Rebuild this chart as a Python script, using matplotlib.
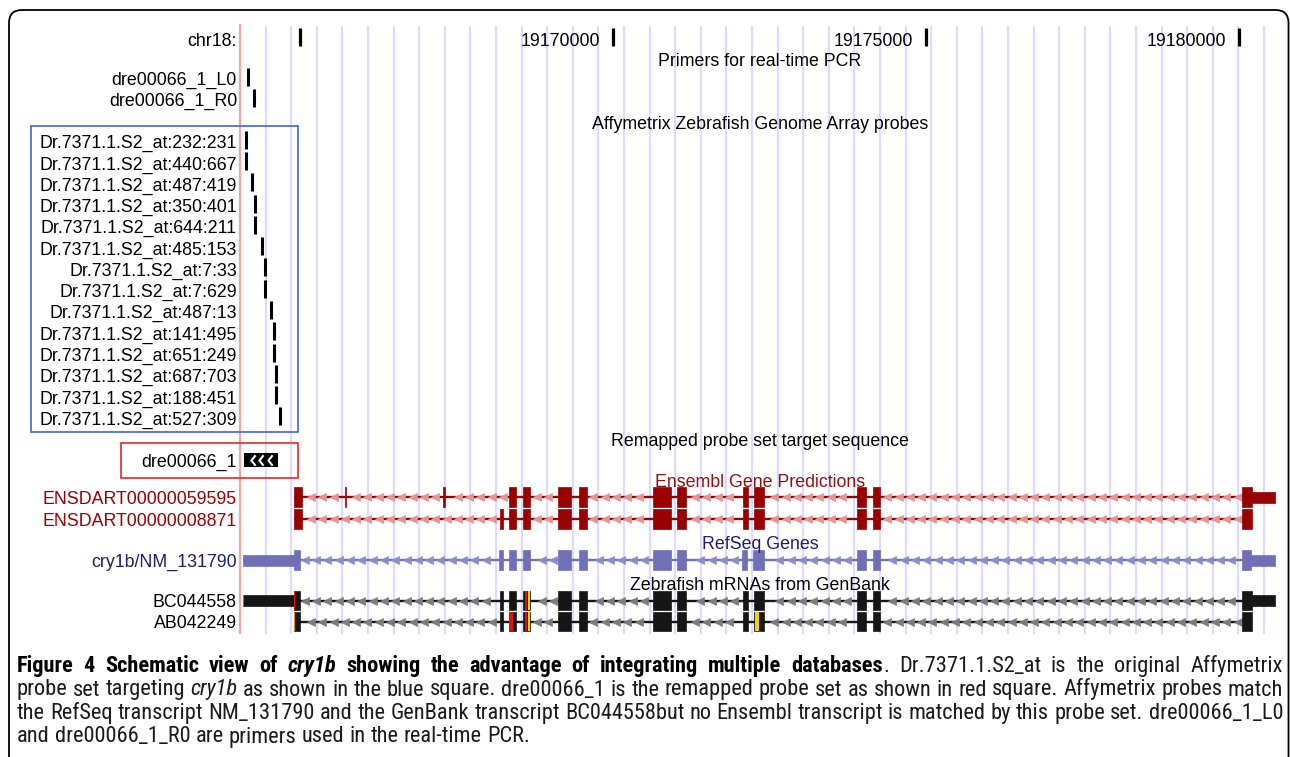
import numpy as np
import matplotlib
matplotlib.use("Agg")
import matplotlib.pyplot as plt
from matplotlib.patches import FancyBboxPatch, Rectangle
from matplotlib import font_manager

# ------------------------------------------------------------------ data
CHROM_LABEL = "chr18:"
VIEW_START, VIEW_END = 19164037, 19180570
RULER_TICKS = [19165000, 19170000, 19175000, 19180000]
RULER_LABELS = ["", "19170000", "19175000", "19180000"]

PRIMER_NAMES = ["dre00066_1_L0", "dre00066_1_R0"]
PRIMER_POS = [19164165, 19164264]

PROBE_NAMES = ["Dr.7371.1.S2_at:232:231", "Dr.7371.1.S2_at:440:667", "Dr.7371.1.S2_at:487:419",
               "Dr.7371.1.S2_at:350:401", "Dr.7371.1.S2_at:644:211", "Dr.7371.1.S2_at:485:153",
               "Dr.7371.1.S2_at:7:33", "Dr.7371.1.S2_at:7:629", "Dr.7371.1.S2_at:487:13",
               "Dr.7371.1.S2_at:141:495", "Dr.7371.1.S2_at:651:249", "Dr.7371.1.S2_at:687:703",
               "Dr.7371.1.S2_at:188:451", "Dr.7371.1.S2_at:527:309"]
PROBE_POS = [19164136, 19164133, 19164232, 19164277, 19164277, 19164396, 19164436,
             19164436, 19164537, 19164575, 19164577, 19164612, 19164612, 19164668]

REMAP_NAME = "dre00066_1"
REMAP_START, REMAP_END = 19164106, 19164649

TRACK_TITLES = ["Primers for real-time PCR", "Affymetrix Zebrafish Genome Array probes",
                "Remapped probe set target sequence", "Ensembl Gene Predictions",
                "RefSeq Genes", "Zebrafish mRNAs from GenBank"]

ENS_NAMES = ["ENSDART00000059595", "ENSDART00000008871"]
ENS1_STARTS = [19164900, 19165714, 19167285, 19168329, 19168562, 19169122, 19169452,
               19170629, 19171022, 19172072, 19172248, 19173898, 19174153, 19180048]
ENS1_ENDS = [19165020, 19165738, 19167308, 19168438, 19168669, 19169320, 19169580,
             19170917, 19171161, 19172144, 19172412, 19174032, 19174260, 19180570]
ENS1_CDS = (19164900, 19180195)
ENS2_STARTS = [19164900, 19168190, 19168329, 19168562, 19169122, 19169452, 19170629,
               19171022, 19172072, 19172248, 19173898, 19174153, 19180048]
ENS2_ENDS = [19165020, 19168233, 19168438, 19168669, 19169320, 19169580, 19170917,
             19171161, 19172144, 19172412, 19174032, 19174260, 19180195]
ENS2_CDS = (19164900, 19180195)

REF_NAME = "cry1b/NM_131790"
REF_STARTS = [19164080, 19168180, 19168329, 19168562, 19169122, 19169452, 19170629,
              19171022, 19172061, 19172237, 19173898, 19174153, 19180048]
REF_ENDS = [19164995, 19168233, 19168438, 19168669, 19169320, 19169580, 19170917,
            19171161, 19172131, 19172412, 19174032, 19174260, 19180570]
REF_CDS = (19164900, 19180185)

MRNA_NAMES = ["BC044558", "AB042249"]
BC_STARTS = [19164080, 19168190, 19168329, 19168562, 19169122, 19169452, 19170629,
             19171022, 19172072, 19172248, 19173898, 19174153, 19180048]
BC_ENDS = [19164995, 19168233, 19168438, 19168669, 19169320, 19169580, 19170917,
           19171161, 19172144, 19172412, 19174032, 19174260, 19180570]
BC_CDS = (19164900, 19180195)
AB_STARTS = [19164900, 19168190, 19168329, 19168562, 19169122, 19169452, 19170629,
             19171022, 19172072, 19172248, 19173898, 19174153, 19180048]
AB_ENDS = [19164995, 19168233, 19168438, 19168669, 19169320, 19169580, 19170917,
           19171161, 19172144, 19172412, 19174032, 19174260, 19180195]
AB_CDS = (19164900, 19180195)

# base-level differences shown on the mRNAs
BC_DIFF_START = [19164080, 19164900, 19168592, 19168630]
BC_DIFF_END = [19164106, 19164922, 19168620, 19168669]
BC_DIFF_KIND = ["polyA", "mismatch", "mismatch", "gap"]
AB_DIFF_START = [19164900, 19168339, 19168592, 19168630, 19172270]
AB_DIFF_END = [19164922, 19168403, 19168620, 19168669, 19172322]
AB_DIFF_KIND = ["insertion", "mismatch", "mismatch", "gap", "gap"]

CAPTION_LINES = [
    [("Figure 4 Schematic view of ", "b"), ("cry1b", "bi"),
     (" showing the advantage of integrating multiple databases", "b"),
     (". Dr.7371.1.S2_at is the original Affymetrix", "r")],
    [("probe set targeting ", "r"), ("cry1b", "i"),
     (" as shown in the blue square. dre00066_1 is the remapped probe set as shown in red square. Affymetrix probes match", "r")],
    [("the RefSeq transcript NM_131790 and the GenBank transcript BC044558but no Ensembl transcript is matched by this probe set. dre00066_1_L0", "r")],
    [("and dre00066_1_R0 are primers used in the real-time PCR.", "r")],
]

# ------------------------------------------------------------------ style / layout
W, H = 1290, 757
TRACK_X0 = 240.0                       # pixel of VIEW_START
BP_PER_PX = (VIEW_END - VIEW_START) / (1275.0 - TRACK_X0)
LABEL_X = 237
FS = 12.8
UCSC_FONT = ["Liberation Sans", "DejaVu Sans"]
ENS_COL, ENS_CHEV = "#990000", "#e49494"
REF_COL, REF_CHEV = "#7070b6", "#8c8cca"
MRNA_COL, MRNA_CHEV = "#161616", "#7c7c7c"
DIFF_COLORS = {"polyA": "#22b822", "mismatch": "#e01010", "insertion": "#e88a00", "gap": "#f2d400"}
GUIDE_COL = "#dcdcff"
TOP_Y, BOT_Y = 26, 634

fig = plt.figure(figsize=(W / 100, H / 100), dpi=100)
ax = fig.add_axes([0, 0, 1, 1])
ax.set_xlim(VIEW_START - TRACK_X0 * BP_PER_PX, VIEW_START + (W - TRACK_X0) * BP_PER_PX)
ax.set_ylim(H, 0)
ax.axis("off")
lay = fig.add_axes([0, 0, 1, 1], zorder=5)
lay.set_xlim(0, W)
lay.set_ylim(H, 0)
lay.axis("off")
lay.patch.set_alpha(0)


def label(x, yc, s, ha="right", color="black", size=FS, axes=None):
    (axes or lay).text(x, yc + 0.358 * size * 100 / 72, s, ha=ha, va="baseline",
                       color=color, fontsize=size, family=UCSC_FONT)


# guidelines
guides = VIEW_START + np.arange(1, 41) * 25.6 * BP_PER_PX
ax.vlines(guides, TOP_Y, BOT_Y, color=GUIDE_COL, lw=1.6, zorder=1)
ax.vlines([VIEW_START + 0.4 * BP_PER_PX], TOP_Y - 2, BOT_Y, color="#f4a6a6", lw=1.6, zorder=2)

# ruler
ax.vlines(RULER_TICKS, 28, 46, color="black", lw=2.3, zorder=3)
for t, lab in zip(RULER_TICKS, RULER_LABELS):
    if lab:
        ax.annotate(lab, (t, 40 + 6.4), xytext=(-13, 0), textcoords="offset pixels",
                    ha="right", va="baseline", fontsize=FS, family=UCSC_FONT)
label(LABEL_X, 40, CHROM_LABEL)

# track titles
title_y = [60, 123, 440, 481, 543, 584]
title_col = ["black", "black", "black", "#8e1010", "#1c1c70", "black"]
for s, y, c in zip(TRACK_TITLES, title_y, title_col):
    label(760, y, s, ha="center", color=c)

# primers
prim_y = [78, 99.3]
for name, pos, y in zip(PRIMER_NAMES, PRIMER_POS, prim_y):
    label(LABEL_X, y, name)
    ax.vlines(pos, y - 10.5, y + 8, color="black", lw=2.2, zorder=4)

# probes
probe_y = 141.7 + 21.28 * np.arange(len(PROBE_NAMES))
for name, pos, y in zip(PROBE_NAMES, PROBE_POS, probe_y):
    label(LABEL_X, y, name)
ax.vlines(PROBE_POS, probe_y - 11, probe_y + 7, color="black", lw=2.2, zorder=4)
lay.add_patch(Rectangle((31, 125.7), 298.3 - 31, 431.7 - 125.7, fill=False,
                        ec="#4062dc", lw=1.2, zorder=6))

# remapped probe set
ry = 460
label(LABEL_X, ry, REMAP_NAME)
ax.broken_barh([(REMAP_START, REMAP_END - REMAP_START)], (ry - 6.7, 13.4),
               facecolors="black", zorder=4)
CHEVRON = [(0.4, 1.0), (-0.4, 0.0), (0.4, -1.0)]
cx = np.linspace(REMAP_START, REMAP_END, 5)[1:4]
ax.plot(cx, np.full(3, ry), ls="none", marker=CHEVRON, ms=7.5, mfc="none",
        mec="white", mew=1.5, zorder=5)
lay.add_patch(Rectangle((121, 443.3), 298.3 - 121, 477.7 - 443.3, fill=False,
                        ec="#e8262a", lw=1.2, zorder=6))


def draw_tx(yc, starts, ends, cds, col, chev, full_h=20.0, half_h=11.0):
    starts = np.asarray(starts)
    ends = np.asarray(ends)
    ax.hlines(yc, starts.min(), ends.max(), color=col, lw=1.7, zorder=3)
    grid = np.arange(starts.min() + 90, ends.max(), 11.3 * BP_PER_PX)
    margin = 4.5 * BP_PER_PX
    keep = np.ones(grid.size, bool)
    for s, e in zip(starts, ends):
        keep &= ~((grid > s - margin) & (grid < e + margin))
    ax.plot(grid[keep], np.full(keep.sum(), yc), ls="none", marker="<", ms=6.4,
            color=chev, mec=chev, mew=0.5, zorder=4)
    for s, e in zip(starts, ends):
        ts, te = max(s, cds[0]), min(e, cds[1])
        if te > ts:
            ax.broken_barh([(ts, te - ts)], (yc - full_h / 2, full_h), facecolors=col,
                           edgecolors=col, lw=0.5, zorder=5)
        if s < cds[0]:
            ax.broken_barh([(s, min(e, cds[0]) - s)], (yc - half_h / 2, half_h),
                           facecolors=col, edgecolors=col, lw=0.5, zorder=5)
        if e > cds[1]:
            a = max(s, cds[1])
            ax.broken_barh([(a, e - a)], (yc - half_h / 2, half_h),
                           facecolors=col, edgecolors=col, lw=0.5, zorder=5)


# Ensembl
ens_y = [497.3, 519.3]
for name, y in zip(ENS_NAMES, ens_y):
    label(LABEL_X, y, name, color=ENS_COL)
draw_tx(ens_y[0], ENS1_STARTS, ENS1_ENDS, ENS1_CDS, ENS_COL, ENS_CHEV)
draw_tx(ens_y[1], ENS2_STARTS, ENS2_ENDS, ENS2_CDS, ENS_COL, ENS_CHEV)

# RefSeq
ref_y = 560
label(LABEL_X, ref_y, REF_NAME, color="#1c1c70")
draw_tx(ref_y, REF_STARTS, REF_ENDS, REF_CDS, REF_COL, REF_CHEV)

# GenBank mRNAs
mrna_y = [600.5, 621.7]
for name, y in zip(MRNA_NAMES, mrna_y):
    label(LABEL_X, y, name)
draw_tx(mrna_y[0], BC_STARTS, BC_ENDS, BC_CDS, MRNA_COL, MRNA_CHEV, full_h=19.5)
draw_tx(mrna_y[1], AB_STARTS, AB_ENDS, AB_CDS, MRNA_COL, MRNA_CHEV, full_h=19.5)
for y, ss, ee, kk, cds in [(mrna_y[0], BC_DIFF_START, BC_DIFF_END, BC_DIFF_KIND, BC_CDS),
                           (mrna_y[1], AB_DIFF_START, AB_DIFF_END, AB_DIFF_KIND, AB_CDS)]:
    for s, e, k in zip(ss, ee, kk):
        h = 19.5 if s >= cds[0] else 11.0
        ax.broken_barh([(s, e - s)], (y - h / 2, h), facecolors=DIFF_COLORS[k], zorder=6)

# outer frame
lay.add_patch(FancyBboxPatch((9, 10), 1279.5, 800, boxstyle="round,pad=0,rounding_size=13",
                             fill=False, ec="black", lw=1.3, clip_on=False, zorder=7))

# ------------------------------------------------------------------ caption
names = {f.name for f in font_manager.fontManager.ttflist}
cap_family = next((n for n in ["Roboto Condensed", "Liberation Sans Narrow",
                               "Open Sans Condensed", "Liberation Sans"] if n in names),
                  "DejaVu Sans")
STY = {"b": dict(weight="bold"), "bi": dict(weight="bold", style="italic"),
       "i": dict(style="italic"), "r": dict()}
renderer = fig.canvas.get_renderer()


def measure(txt, sty, size):
    t = lay.text(0, 0, txt, fontsize=size, family=cap_family, **STY[sty])
    w = t.get_window_extent(renderer).width
    t.remove()
    return w


def words_of(line):
    words = [[]]
    for text, sty in line:
        parts = text.split(" ")
        for i, p in enumerate(parts):
            if i > 0:
                words.append([])
            if p:
                words[-1].append((p, sty))
    return [w for w in words if w]


CX0, CX1 = 17, 1283
cap_words = [words_of(l) for l in CAPTION_LINES]
sp10 = measure("a a", "r", 10) - measure("aa", "r", 10)
nat = []
for ws in cap_words[:3]:
    tot = sum(measure(p, s, 10) for w in ws for p, s in w)
    nat.append(tot + sp10 * (len(ws) - 1))
csize = min(18.0, 10 * (CX1 - CX0) / max(nat) * 0.99)
space = measure("a a", "r", csize) - measure("aa", "r", csize)
base_y = [672, 695.5, 719, 742.5]
for li, (ws, yb) in enumerate(zip(cap_words, base_y)):
    widths = [[measure(p, s, csize) for p, s in w] for w in ws]
    total = sum(sum(w) for w in widths)
    gap = (CX1 - CX0 - total) / (len(ws) - 1) if li < 3 else space
    x = CX0
    for w, wl in zip(ws, widths):
        for (p, s), pw in zip(w, wl):
            col = "black" if s.startswith("b") else "#1a1a1a"
            lay.text(x, yb, p, fontsize=csize, family=cap_family, va="baseline",
                     ha="left", color=col, **STY[s])
            x += pw
        x += gap

fig.savefig("out.png", dpi=100, facecolor="white")
